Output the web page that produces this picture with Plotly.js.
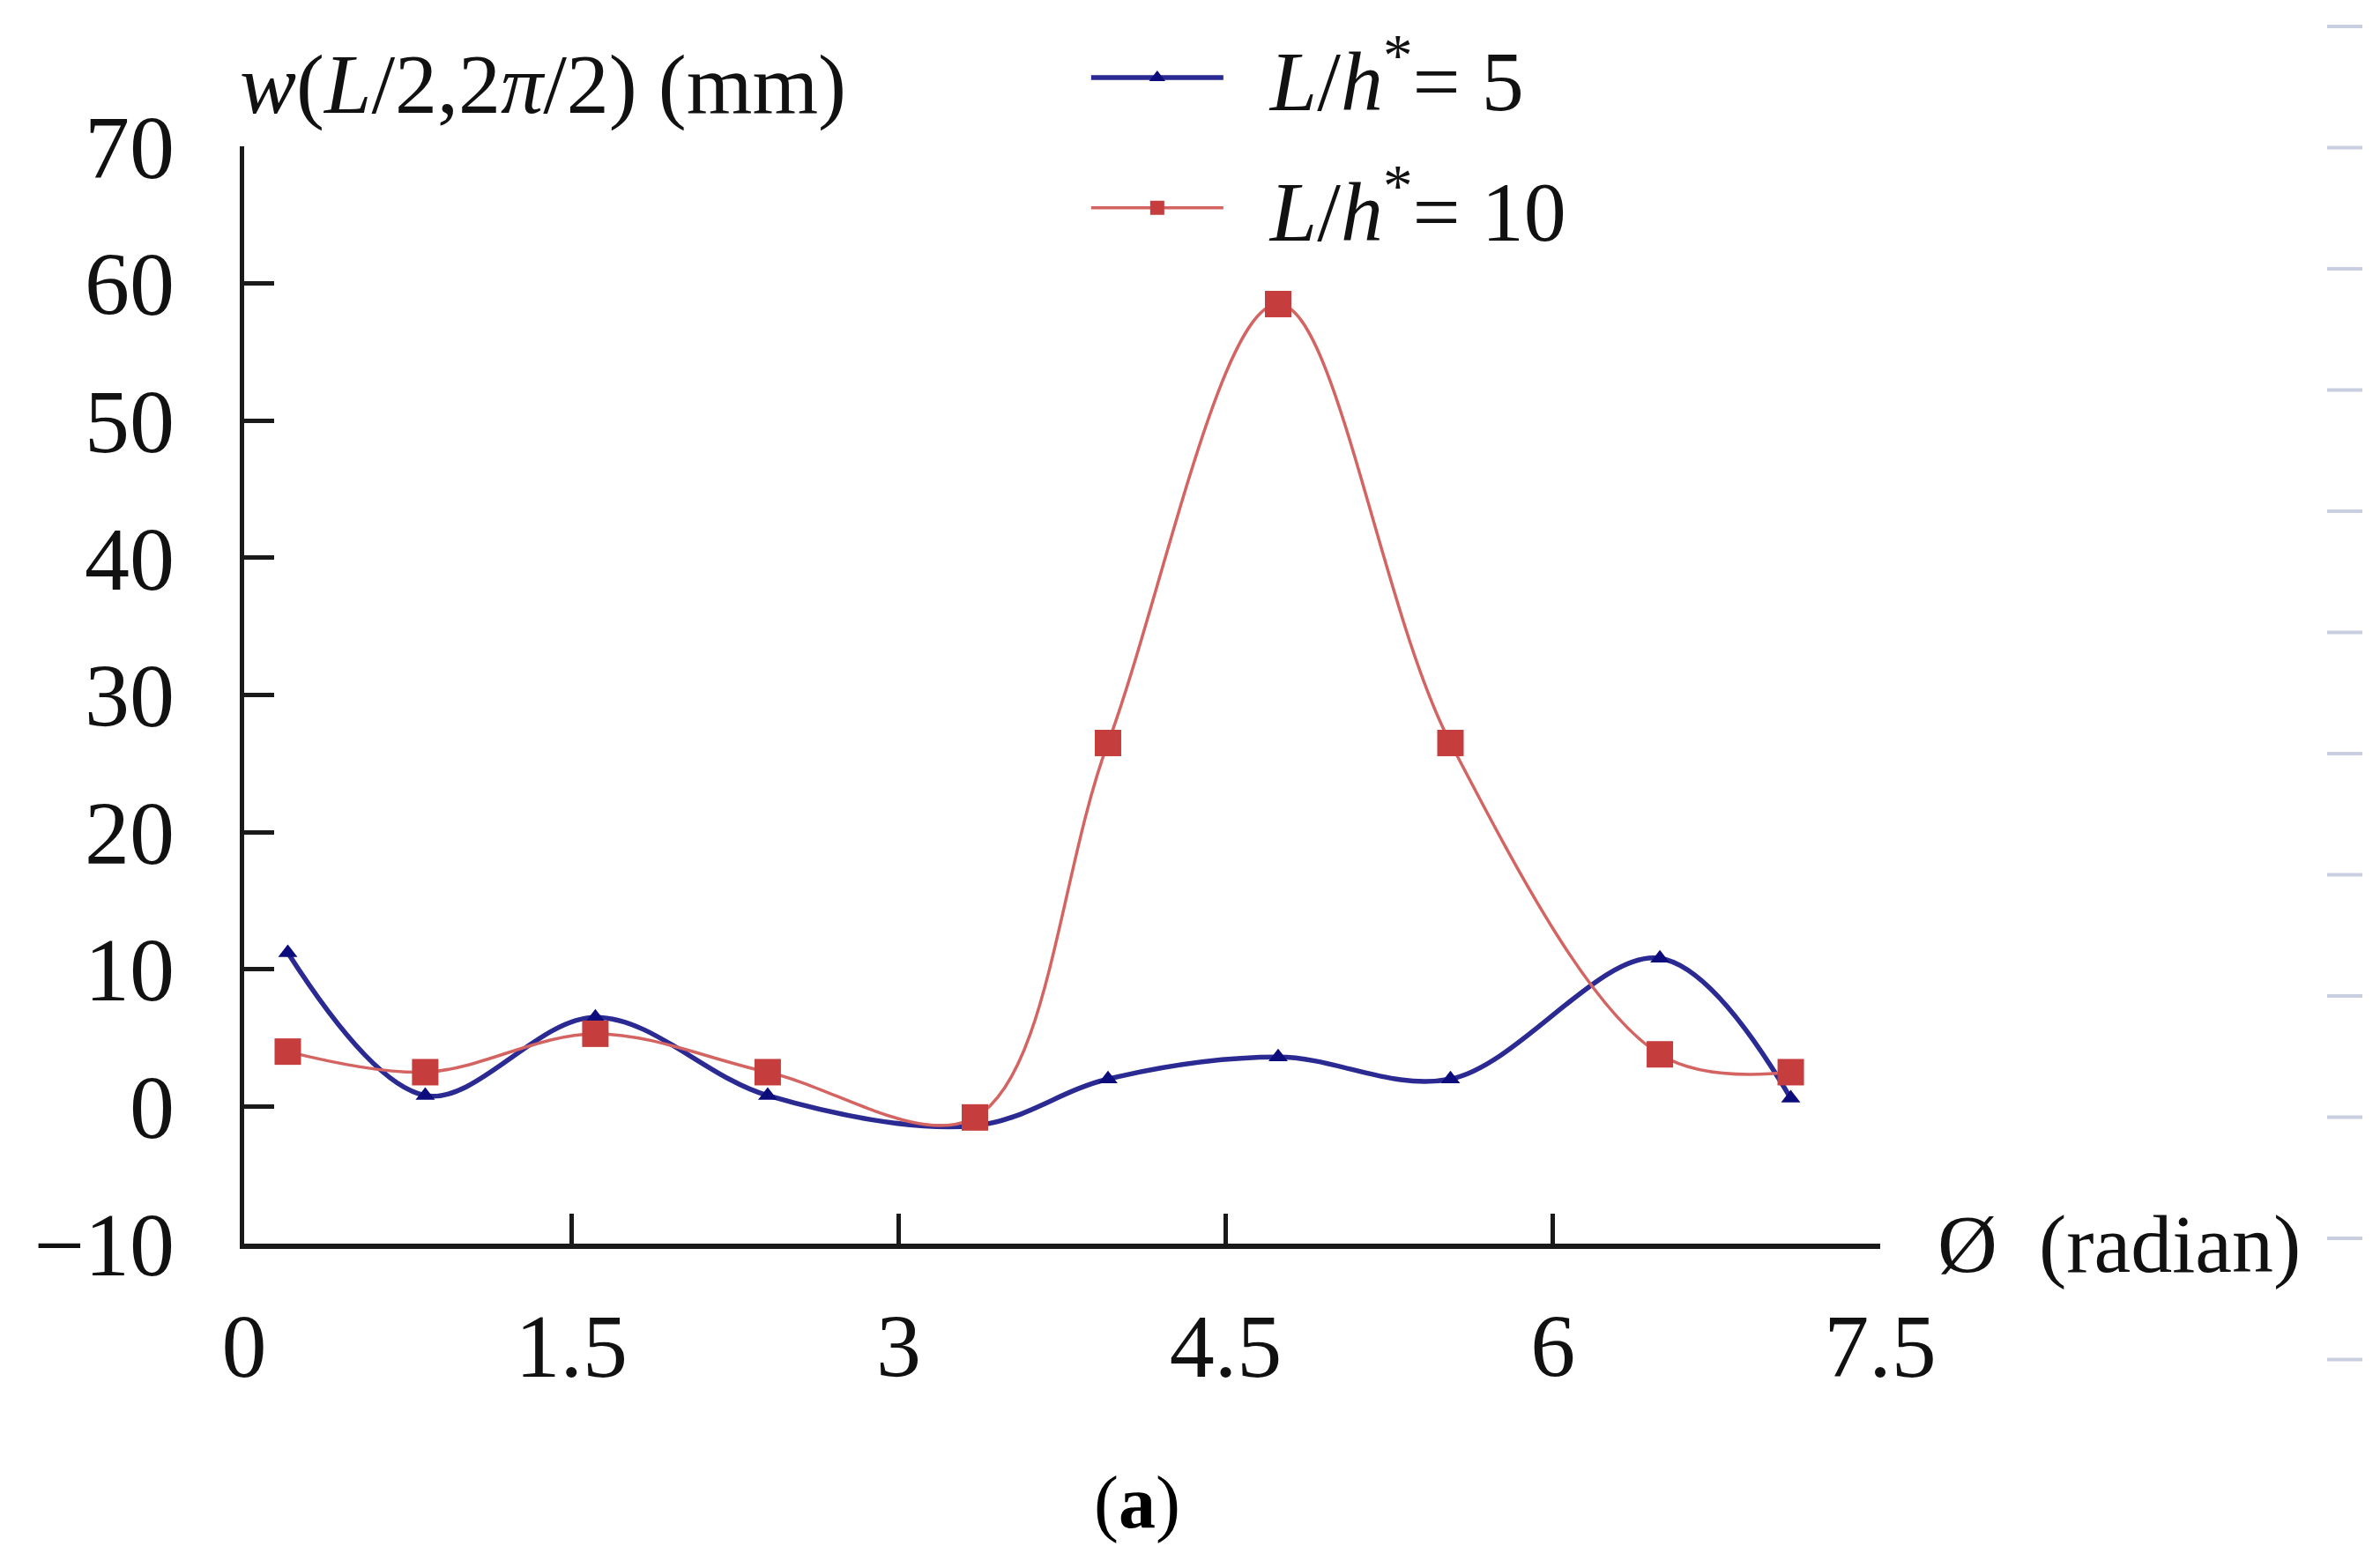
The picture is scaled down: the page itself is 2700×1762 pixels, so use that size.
<!DOCTYPE html>
<html>
<head>
<meta charset="utf-8">
<script src="https://cdn.plot.ly/plotly-3.0.1.min.js"></script>
<style>
  html, body { margin: 0; padding: 0; background: #fff; }
  #chart { width: 2700px; height: 1762px; }
</style>
</head>
<body>
<div id="chart"></div>
<script>
// angle positions (radian)
const phi = [0.2, 0.83, 1.61, 2.4, 3.35, 3.96, 4.74, 5.53, 6.49, 7.09];

// deflection w (mm) for the two slenderness ratios
const wRatio5 = [11.2, 0.8, 6.5, 0.8, -1.4, 2.0, 3.6, 2.0, 10.8, 0.6];
const wRatio10 = [4.0, 2.5, 5.3, 2.5, -0.8, 26.5, 58.5, 26.5, 3.8, 2.5];

const xTicks = [0, 1.5, 3, 4.5, 6, 7.5];
const yTicks = [-10, 0, 10, 20, 30, 40, 50, 60, 70];

const serif = 'Liberation Serif, Times New Roman, serif';
const gap = '\u00a0\u00a0';

const traces = [
    {
        x: phi,
        y: wRatio5,
        name: gap + '<i>L</i>/<i>h</i><sup>*</sup>= 5',
        legendgroup: 'a',
        type: 'scatter',
        mode: 'lines+markers',
        line: { color: '#2a2a92', width: 5.5, shape: 'spline', smoothing: 1 },
        marker: { symbol: 'triangle-up', size: 19, color: '#0c0c7c' }
    },
    {
        x: phi,
        y: wRatio10,
        name: gap + '<i>L</i>/<i>h</i><sup>*</sup>= 10',
        legendgroup: 'b',
        type: 'scatter',
        mode: 'lines+markers',
        line: { color: '#d36462', width: 3.5, shape: 'spline', smoothing: 1 },
        marker: { symbol: 'square', size: 30, color: '#c63d3d' }
    }
];

// faint marks along the right edge of the scanned page
const edgeMarks = [];
for (let k = 0; k < 12; k++) {
    const py = 30 + 137.5 * k;
    edgeMarks.push({
        type: 'line', xref: 'paper', yref: 'paper',
        x0: (2640 - 277) / 1856, x1: (2680 - 277) / 1856,
        y0: (1411 - py) / 1245, y1: (1411 - py) / 1245,
        line: { color: '#c9cfe1', width: 4 }
    });
}

const layout = {
    width: 2700,
    height: 1762,
    paper_bgcolor: '#ffffff',
    plot_bgcolor: '#ffffff',
    margin: { l: 277, r: 567, t: 166, b: 351 },
    font: { family: serif, size: 100, color: '#111' },
    showlegend: true,
    legend: {
        x: 0.515, y: 1.118, xanchor: 'left', yanchor: 'top',
        font: { family: serif, size: 96, color: '#111' },
        itemwidth: 150,
        tracegroupgap: 20,
        bgcolor: 'rgba(0,0,0,0)'
    },
    xaxis: {
        range: [0, 7.5],
        tickvals: xTicks,
        ticktext: xTicks.map(String),
        ticks: 'inside',
        ticklen: 34,
        tickwidth: 5,
        tickcolor: '#1a1a1a',
        showline: true,
        linecolor: '#1a1a1a',
        linewidth: 5.5,
        showgrid: false,
        zeroline: false,
        ticklabelstandoff: 23,
        tickfont: { family: serif, size: 102, color: '#111' }
    },
    yaxis: {
        range: [-10, 70],
        tickvals: yTicks,
        ticks: 'inside',
        ticklen: 34,
        tickwidth: 5,
        tickcolor: '#1a1a1a',
        showline: true,
        linecolor: '#1a1a1a',
        linewidth: 5.5,
        showgrid: false,
        zeroline: false,
        ticklabelstandoff: 53,
        tickfont: { family: serif, size: 102, color: '#111' }
    },
    annotations: [
        {
            text: '<i>w</i>(<i>L</i>/2,2<i>π</i>/2) (mm)',
            xref: 'paper', yref: 'paper',
            x: (270 - 277) / 1856, y: (1411 - 95) / 1245,
            xanchor: 'left', yanchor: 'middle',
            showarrow: false,
            font: { family: serif, size: 96, color: '#111' }
        },
        {
            text: 'Ø\u00a0 (radian)',
            xref: 'paper', yref: 'paper',
            x: (2196 - 277) / 1856, y: 0,
            xanchor: 'left', yanchor: 'middle',
            showarrow: false,
            font: { family: serif, size: 94, color: '#111' }
        },
        {
            text: '(<b>a</b>)',
            xref: 'paper', yref: 'paper',
            x: (1290 - 277) / 1856, y: (1411 - 1705) / 1245,
            xanchor: 'center', yanchor: 'middle',
            showarrow: false,
            font: { family: serif, size: 84, color: '#000' }
        }
    ],
    shapes: edgeMarks
};

Plotly.newPlot('chart', traces, layout, { displayModeBar: false, staticPlot: true });
</script>
</body>
</html>
